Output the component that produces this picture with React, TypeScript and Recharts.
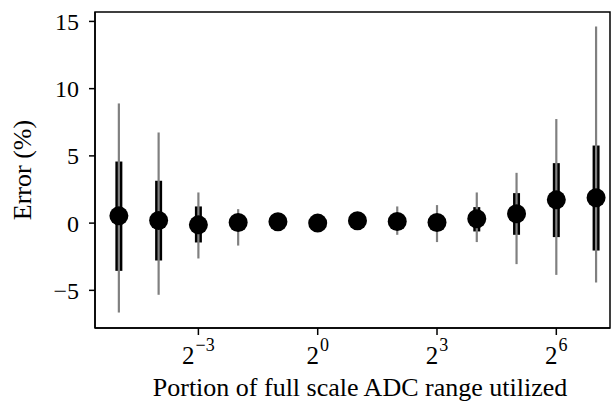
import { ComposedChart, Scatter, ErrorBar, XAxis, YAxis, ReferenceArea, Label } from 'recharts';

// portion of full-scale ADC range, one point per power of two
const portion = [0.03125, 0.0625, 0.125, 0.25, 0.5, 1, 2, 4, 8, 16, 32, 64, 128];
const median = [0.54, 0.2, -0.13, 0.05, 0.1, 0.0, 0.17, 0.12, 0.05, 0.32, 0.69, 1.73, 1.88];
const q1 = [-3.55, -2.78, -1.44, -0.4, -0.2, -0.15, -0.1, -0.3, -0.4, -0.62, -0.87, -1.04, -2.04];
const q3 = [4.58, 3.15, 1.24, 0.45, 0.3, 0.15, 0.35, 0.5, 0.5, 1.19, 2.23, 4.46, 5.77];
const whiskerLow = [-6.65, -5.33, -2.63, -1.67, -0.4, -0.3, -0.3, -0.87, -1.41, -1.41, -3.05, -3.85, -4.42];
const whiskerHigh = [8.9, 6.74, 2.28, 1.04, 0.5, 0.35, 0.6, 1.24, 1.34, 2.28, 3.74, 7.74, 14.63];

const xTicks = [0.125, 1, 8, 64];
const yTicks = [-5, 0, 5, 10, 15];

const data = portion.map((p, i) => ({
  portion: p,
  median: median[i],
  iqr: [median[i] - q1[i], q3[i] - median[i]],
  whisker: [median[i] - whiskerLow[i], whiskerHigh[i] - median[i]],
}));

const FONT = '"Liberation Serif", "Times New Roman", serif';
const xDomain = [Math.pow(2, -5.6), Math.pow(2, 7.35)];
const yDomain = [-7.8, 15.7];

const minus = (v: number) => (v < 0 ? '\u2212' + Math.abs(v) : String(v));

function PowerTick(props: any) {
  const { x, y, payload } = props;
  const exp = Math.round(Math.log2(payload.value));
  return (
    <text x={x} y={y + 29} textAnchor="middle" fontFamily={FONT} fontSize={25} fill="#000">
      <tspan>2</tspan>
      <tspan dx={1} dy={-13} fontSize={18}>
        {minus(exp)}
      </tspan>
    </text>
  );
}

const nothing = () => <g />;
const dot = (props: any) => <circle cx={props.cx} cy={props.cy} r={9.5} fill="#000" />;

export default function App() {
  return (
    <div style={{ position: 'absolute', left: 0, top: 0, background: '#fff' }}>
      <ComposedChart width={611} height={409} data={data} margin={{ top: 12, right: 1, bottom: 0, left: 0 }}>
        <XAxis
          dataKey="portion"
          type="number"
          scale="log"
          domain={xDomain}
          allowDataOverflow
          ticks={xTicks}
          tick={<PowerTick />}
          tickSize={7}
          tickMargin={0}
          height={81}
          stroke="#000"
          strokeWidth={1.5}
          interval={0}
        >
          <Label
            content={() => (
              <text x={360} y={396} textAnchor="middle" fontFamily={FONT} fontSize={26} fill="#000">
                Portion of full scale ADC range utilized
              </text>
            )}
          />
        </XAxis>
        <YAxis
          type="number"
          domain={yDomain}
          allowDataOverflow
          ticks={yTicks}
          tickFormatter={minus}
          width={95}
          tickSize={6}
          tickMargin={10}
          stroke="#000"
          strokeWidth={1.5}
          tick={{ fontFamily: FONT, fontSize: 24, fill: '#000' }}
          interval={0}
        >
          <Label
            content={() => (
              <text
                x={31}
                y={170}
                transform="rotate(-90 31 170)"
                textAnchor="middle"
                fontFamily={FONT}
                fontSize={26}
                fill="#000"
              >
                Error (%)
              </text>
            )}
          />
        </YAxis>
        <ReferenceArea
          x1={xDomain[0]}
          x2={xDomain[1]}
          y1={yDomain[0]}
          y2={yDomain[1]}
          fill="none"
          stroke="#000"
          strokeWidth={1.5}
        />
        <Scatter dataKey="median" shape={nothing} isAnimationActive={false}>
          <ErrorBar dataKey="iqr" direction="y" width={0} stroke="#000" strokeWidth={7} isAnimationActive={false} />
        </Scatter>
        <Scatter dataKey="median" shape={nothing} isAnimationActive={false}>
          <ErrorBar dataKey="whisker" direction="y" width={0} stroke="#808080" strokeWidth={2.2} isAnimationActive={false} />
        </Scatter>
        <Scatter dataKey="median" shape={dot} isAnimationActive={false} />
      </ComposedChart>
    </div>
  );
}
